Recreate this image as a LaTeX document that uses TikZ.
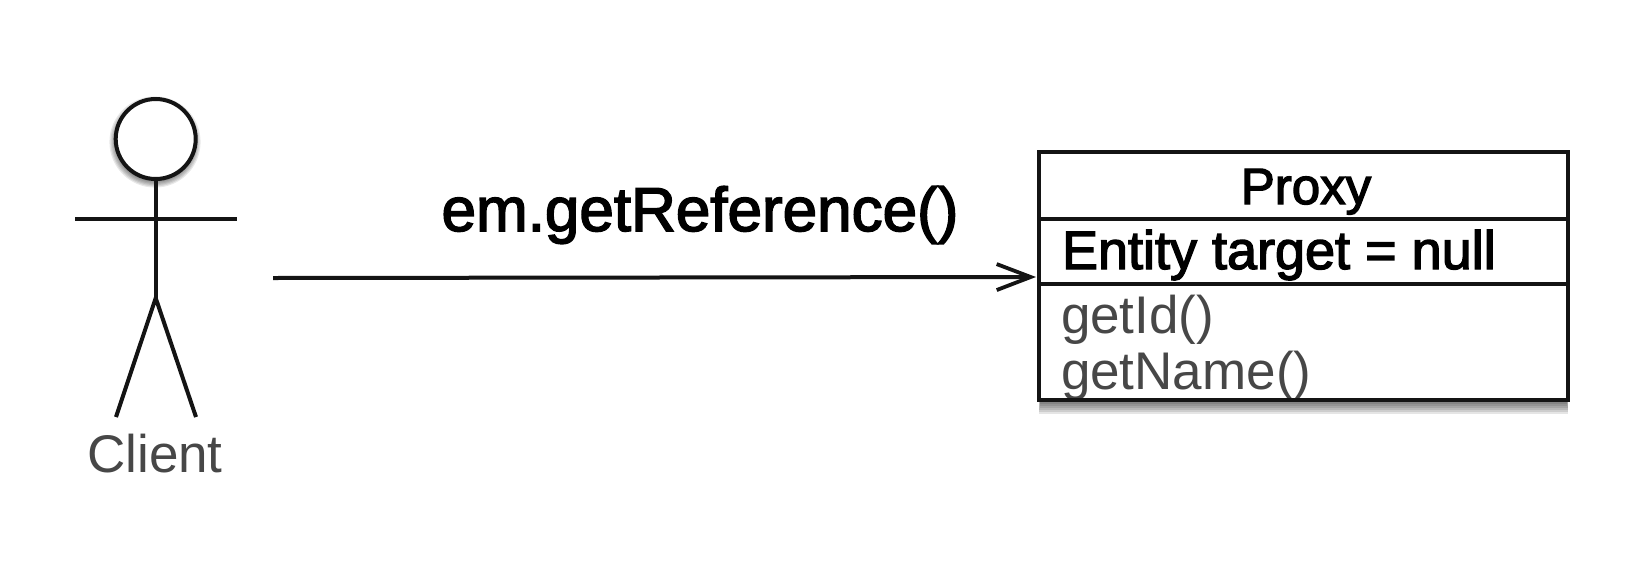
\documentclass[tikz,border=0pt]{standalone}
\usepackage{fontspec}
\setmainfont{Liberation Sans}
\newfontfamily\boldish[FakeBold=2.5]{Liberation Sans}
\usetikzlibrary{arrows.meta}
\tikzset{
  x=1pt,y=-1pt,
  stroke/.style={line width=4pt,draw=black!92},
  txt/.style={inner sep=0pt,outer sep=0pt},
  thin label/.style={txt,text=black!72,font=\fontsize{53}{60}\selectfont},
  strong label/.style={txt,text=black,font=\boldish\fontsize{54}{60}\selectfont},
}
\begin{document}
\begin{tikzpicture}
\useasboundingbox (0,0) rectangle (1650,582);
\fill[white] (0,0) rectangle (1650,582);
% soft shadows
\foreach \g in {11,9,7,5,3,1}{
  \fill[black,opacity=0.1] (1040-\g*0.1,165) rectangle (1567+\g*0.1,403+\g);
  \fill[black,opacity=0.09] (155,142) circle ({39+\g*0.6});
}
% Actor
\node[circle,stroke,fill=white,minimum size=80pt,inner sep=0pt,outer sep=0pt] (head) at (155.7,139) {};
\coordinate (hip) at (155.7,298);
\coordinate (armL) at (75,219);
\coordinate (armR) at (237,219);
\coordinate (footL) at (116,417);
\coordinate (footR) at (196,417);
\draw[stroke] (head.south) -- (hip);
\draw[stroke] (armL) -- (armR);
\draw[stroke,line join=miter] (footL) -- (hip) -- (footR);
\node[thin label,anchor=base] (client) at (155,472) {Client};
% Class box
\node[txt,minimum width=529pt,minimum height=67pt,anchor=north west,fill=white] (title) at (1039,152) {};
\node[txt,minimum width=529pt,minimum height=65pt,anchor=north west,fill=white] (attrs) at (1039,219) {};
\node[txt,minimum width=529pt,minimum height=116pt,anchor=north west,fill=white] (ops) at (1039,284) {};
\node[strong label,anchor=base,font=\boldish\fontsize{51}{60}\selectfont] (proxy) at (1306,204) {Proxy};
\node[strong label,anchor=base west] (entity) at (1062,269) {Entity target = null};
\node[thin label,anchor=base west] (getid) at (1061,333) {getId()};
\node[thin label,anchor=base west] (getname) at (1061,389) {getName()};
\draw[stroke,line join=miter] (title.north west) rectangle (ops.south east);
\draw[stroke] (title.south west) -- (title.south east);
\draw[stroke] (attrs.south west) -- (attrs.south east);
% Message
\coordinate (start) at (273,278);
\coordinate (arrowend) at (1036,277);
\draw[stroke,-{Straight Barb[length=34pt,width=26pt,line width=3.8pt]}] (start) -- (arrowend);
\node[txt,anchor=base,font=\boldish\fontsize{62}{70}\selectfont] (msg) at (700,231) {em.getReference()};
\end{tikzpicture}
\end{document}
